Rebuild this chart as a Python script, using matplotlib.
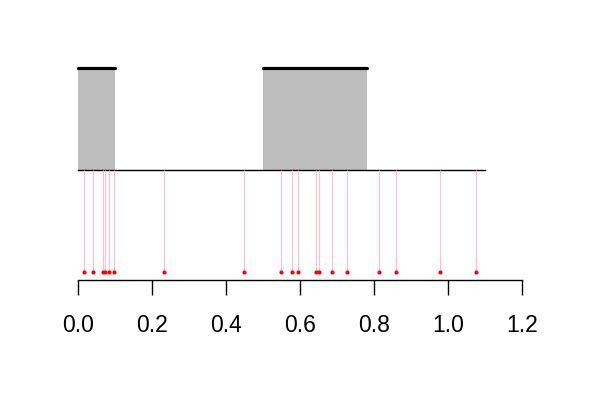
import matplotlib
matplotlib.use('Agg')
import matplotlib.pyplot as plt

# interval blocks (start, end)
block_start = [0.0, 0.5]
block_end = [0.1, 0.78]

# event positions
events = [0.016, 0.041, 0.068, 0.073, 0.084, 0.097, 0.232, 0.449, 0.549,
          0.579, 0.594, 0.644, 0.652, 0.686, 0.726, 0.814, 0.859, 0.977, 1.076]

line_end = 1.1
xticks = [0.0, 0.2, 0.4, 0.6, 0.8, 1.0, 1.2]

plt.rcParams['font.family'] = ['Liberation Sans', 'DejaVu Sans']

fig = plt.figure(figsize=(6, 4), dpi=100)
ax = fig.add_axes([0.1, 0.3, 0.8, 0.58])

# grey blocks with thick top edge
for s, e in zip(block_start, block_end):
    ax.fill_between([s, e], 1, 2, color='#bebebe', lw=0)
    ax.plot([s, e], [2, 2], color='black', lw=2.3, solid_capstyle='round')

# baseline
ax.plot([0, line_end], [1, 1], color='black', lw=1)

# events: pink stems and red points
ax.vlines(events, 0, 1, color='pink', lw=0.8)
ax.plot(events, [0] * len(events), 'o', color='red', ms=3, mec='none')

ax.set_xlim(-0.048, 1.248)
ax.set_ylim(-0.08, 2.2)
ax.set_xticks(xticks)
ax.set_xticklabels(['%.1f' % t for t in xticks], fontsize=16.5)
ax.tick_params(axis='x', length=10.5, width=1, pad=14)
ax.set_yticks([])
for side in ['top', 'right', 'left']:
    ax.spines[side].set_visible(False)
ax.spines['bottom'].set_bounds(0, 1.2)
ax.spines['bottom'].set_linewidth(1)

fig.savefig('out.png', dpi=100)
